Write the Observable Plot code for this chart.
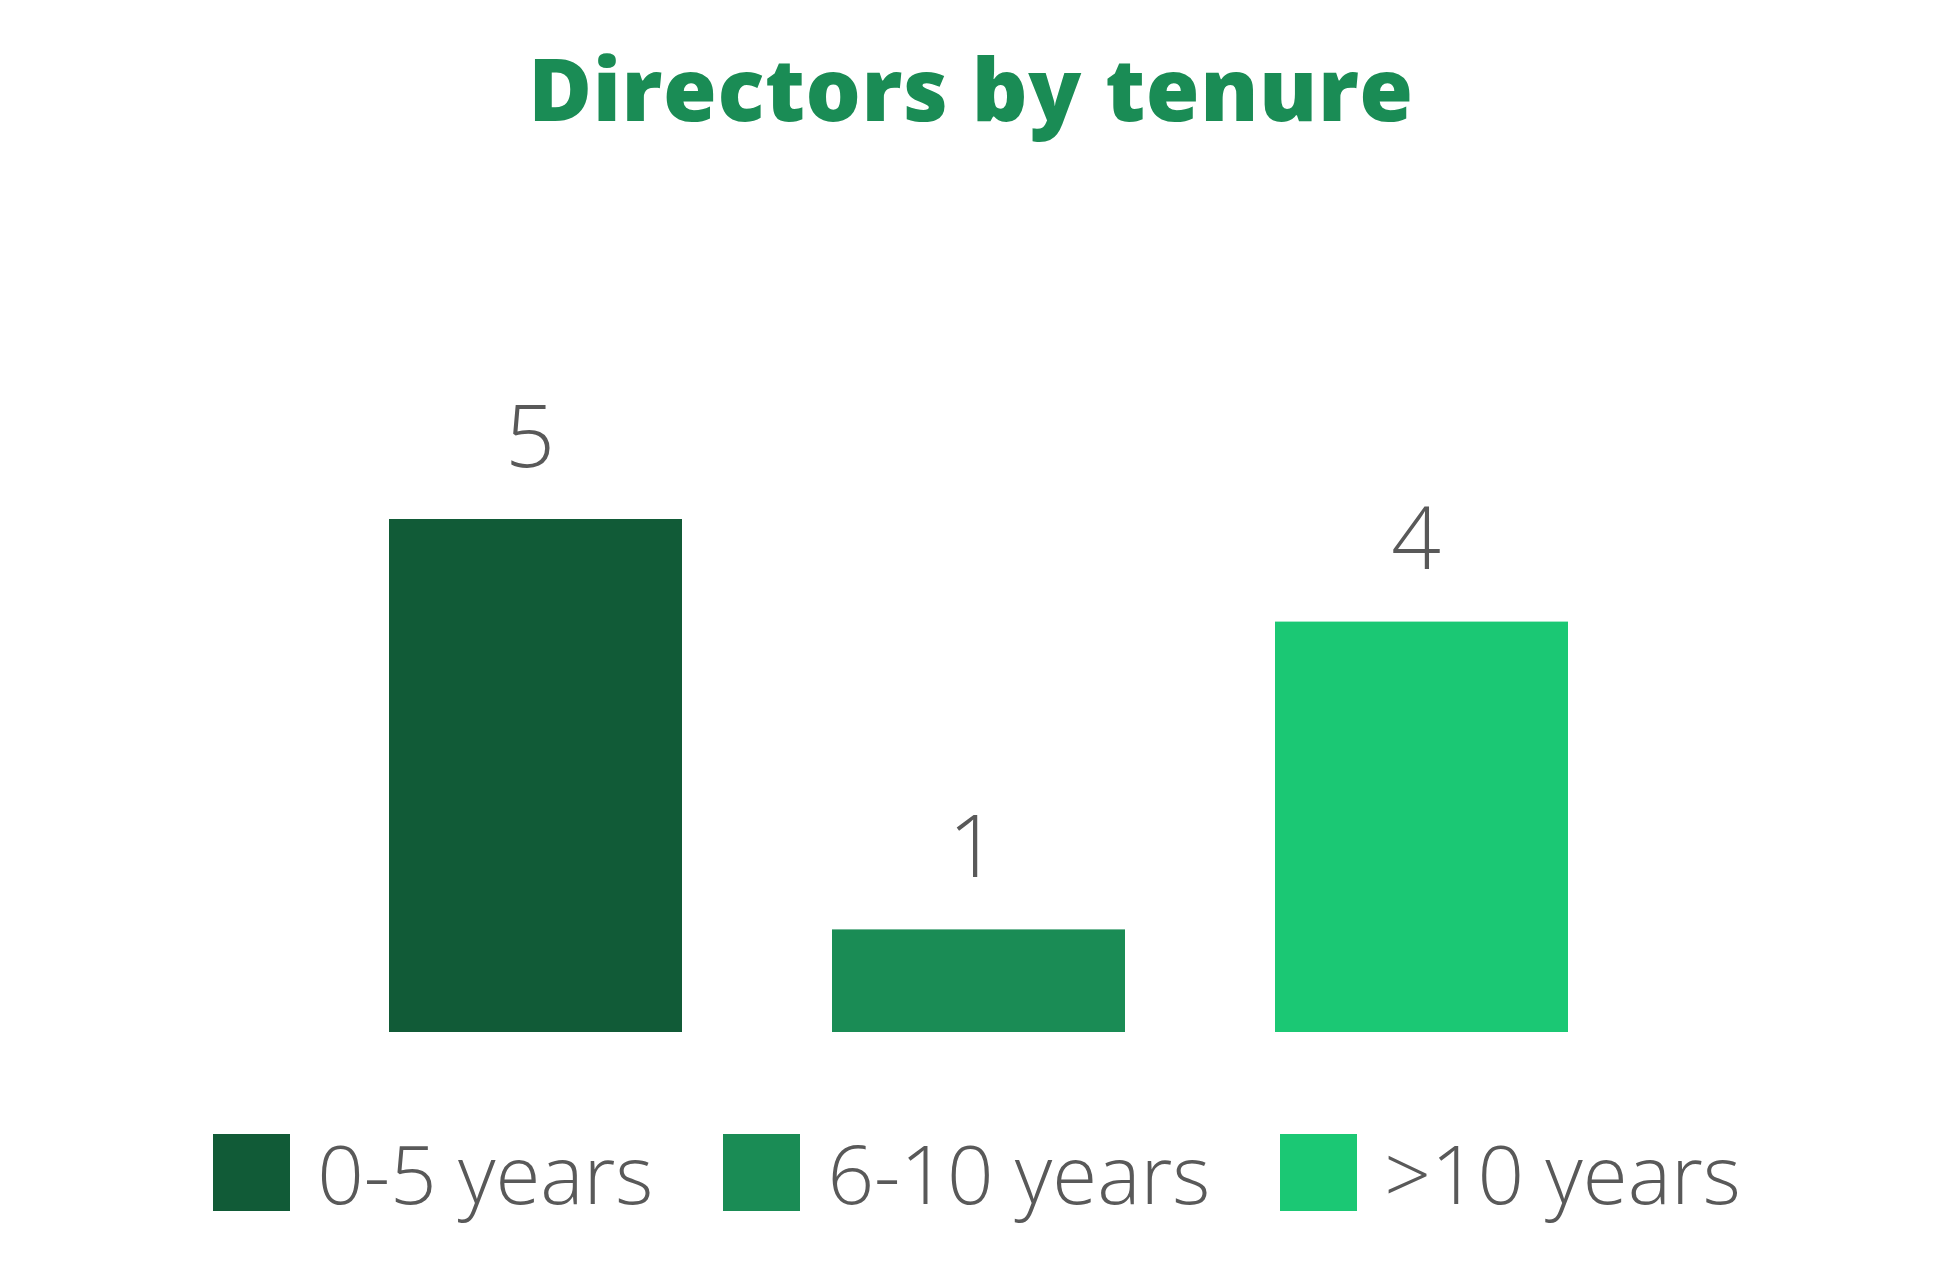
<!DOCTYPE html>
<html>
<head>
<meta charset="utf-8">
<script src="https://cdn.jsdelivr.net/npm/d3@7"></script>
<script src="https://cdn.jsdelivr.net/npm/@observablehq/plot@0.6"></script>
<style>
  html, body { margin: 0; padding: 0; background: #fff; }
  body { width: 1956px; height: 1266px; overflow: hidden; font-family: "Open Sans", sans-serif; }
  #title { box-sizing: border-box; height: 157px; padding-top: 17px; padding-right: 14px; line-height: 140px; text-align: center;
    font-size: 87px; font-weight: 760; letter-spacing: 0.6px; color: #1A8C55; white-space: nowrap; }
  #legend { display: flex; justify-content: center; align-items: center; margin-top: 22px; padding-right: 2px; }
  .item { display: flex; align-items: center; margin: 0 35px; }
  .sw { width: 77px; height: 77px; margin-right: 27px; }
  .lab { font-size: 81.7px; font-weight: 300; color: #595959; line-height: 1; white-space: nowrap; }
</style>
</head>
<body>
<div id="title"></div>
<div id="chart"></div>
<div id="legend"></div>
<script>
const titleText = "Directors by tenure";
const categories = ["0-5 years", "6-10 years", ">10 years"];
const counts = [5, 1, 4];
const colors = ["#115B37", "#1A8C55", "#1BC874"];

document.getElementById("title").textContent = titleText;

const data = categories.map((c, i) => ({category: c, count: counts[i]}));

const plot = Plot.plot({
  width: 1956,
  height: 953,
  marginTop: 362,
  marginBottom: 78,
  marginLeft: 238,
  marginRight: 237,
  style: {fontFamily: "Open Sans, sans-serif", background: "#fff"},
  x: {domain: categories, padding: 0.3393, axis: null},
  y: {domain: [0, 5], axis: null},
  color: {domain: categories, range: colors},
  marks: [
    Plot.barY(data, {x: "category", y: "count", fill: "category"}),
    Plot.text(data, {x: "category", y: "count", text: d => String(d.count), lineAnchor: "bottom", dy: -53, dx: -6,
      fontSize: 87, fontWeight: 340, fill: "#595959"})
  ]
});
document.getElementById("chart").appendChild(plot);

const legend = document.getElementById("legend");
categories.forEach((c, i) => {
  const item = document.createElement("div");
  item.className = "item";
  const sw = document.createElement("div");
  sw.className = "sw";
  sw.style.background = colors[i];
  const lab = document.createElement("span");
  lab.className = "lab";
  lab.textContent = c;
  item.appendChild(sw);
  item.appendChild(lab);
  legend.appendChild(item);
});
</script>
</body>
</html>
